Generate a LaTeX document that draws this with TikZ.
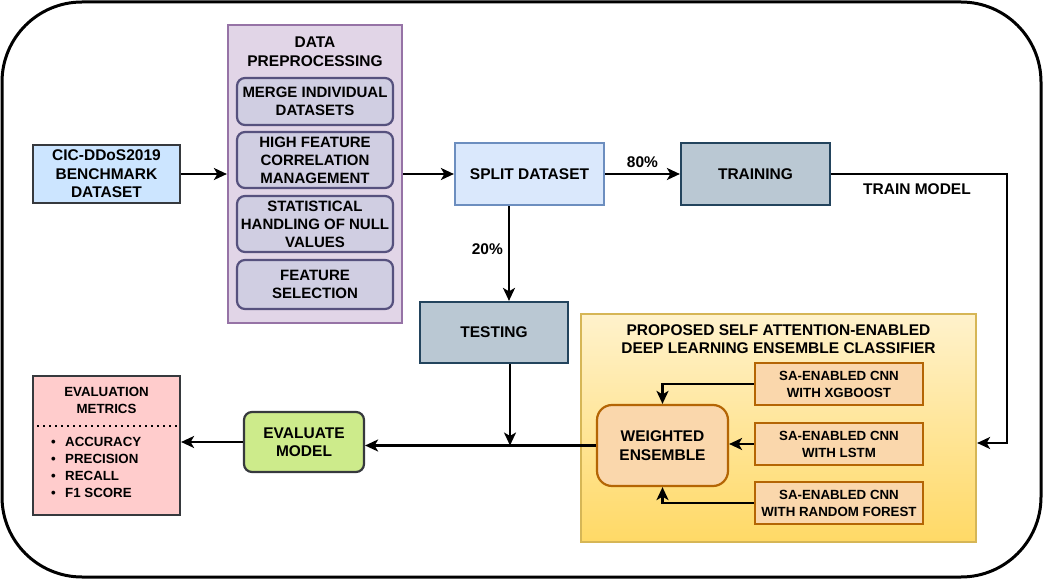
\documentclass[tikz,border=0pt]{standalone}
\usepackage{fontspec}
\setmainfont{Liberation Sans}
\usetikzlibrary{arrows.meta}
\definecolor{cicfill}{HTML}{CCE5FF}
\definecolor{darkstroke}{HTML}{36393D}
\definecolor{prefill}{HTML}{E1D5E7}
\definecolor{prestroke}{HTML}{9673A6}
\definecolor{innerfill}{HTML}{D0CEE2}
\definecolor{innerstroke}{HTML}{56517E}
\definecolor{splitfill}{HTML}{DAE8FC}
\definecolor{splitstroke}{HTML}{6C8EBF}
\definecolor{trainfill}{HTML}{BAC8D3}
\definecolor{trainstroke}{HTML}{23445D}
\definecolor{evalfill}{HTML}{CDEB8B}
\definecolor{metfill}{HTML}{FFCCCC}
\definecolor{ytop}{HTML}{FFF2CC}
\definecolor{ybot}{HTML}{FFD966}
\definecolor{ystroke}{HTML}{D6B656}
\definecolor{ofill}{HTML}{FAD7AC}
\definecolor{ostroke}{HTML}{B46504}
\newcommand\bigf{\fontsize{15.5}{18.5}\selectfont\bfseries}
\newcommand\midf{\fontsize{15}{18}\selectfont\bfseries}
\newcommand\smallf{\fontsize{13.3}{17}\selectfont\bfseries}
\tikzset{
  box/.style={draw, line width=2.2pt, align=center, inner sep=0pt, font=\bigf},
  innerbox/.style={box, fill=innerfill, draw=innerstroke, rounded corners=8pt, minimum width=156pt, font=\midf},
  sabox/.style={box, fill=ofill, draw=ostroke, minimum width=168pt, minimum height=42pt, font=\smallf},
  arr/.style={line width=2.4pt, -{Stealth[length=13pt,width=12pt,inset=3.5pt]}},
  lbl/.style={font=\bigf, inner sep=0pt, align=center}
}
\begin{document}
\begin{tikzpicture}[x=1pt,y=-1pt]
\useasboundingbox (0,0) rectangle (1045,580);
\node[draw, line width=3pt, rounded corners=80pt, minimum width=1039pt, minimum height=575pt, inner sep=0pt] (frame) at (521.5,289.5) {};

% left input
\node[box, fill=cicfill, draw=darkstroke, minimum width=147pt, minimum height=58pt] (cic) at (106.5,174) {CIC-DDoS2019\\BENCHMARK\\DATASET};

% preprocessing
\node[box, fill=prefill, draw=prestroke, minimum width=174pt, minimum height=298pt] (pre) at (315,174) {};
\node[lbl] (pretitle) at (315,51.5) {DATA\\PREPROCESSING};
\node[innerbox, minimum height=47pt] (p1) at (315,101.5) {MERGE INDIVIDUAL\\DATASETS};
\node[innerbox, minimum height=56pt] (p2) at (315,160) {HIGH FEATURE\\CORRELATION\\MANAGEMENT};
\node[innerbox, minimum height=56pt] (p3) at (315,224) {STATISTICAL\\HANDLING OF NULL\\VALUES};
\node[innerbox, minimum height=49pt] (p4) at (315,284.5) {FEATURE\\SELECTION};

% split / train / test
\node[box, fill=splitfill, draw=splitstroke, minimum width=149pt, minimum height=62pt] (split) at (529.5,174) {SPLIT DATASET};
\node[box, fill=trainfill, draw=trainstroke, minimum width=149pt, minimum height=62pt] (train) at (755.5,174) {TRAINING};
\node[box, fill=trainfill, draw=trainstroke, minimum width=148pt, minimum height=61pt] (test) at (494,332.5) {TESTING};

% evaluation
\node[box, fill=evalfill, draw=darkstroke, rounded corners=8pt, minimum width=120pt, minimum height=60pt] (eval) at (304,442) {EVALUATE\\MODEL};
\node[box, fill=metfill, draw=darkstroke, minimum width=147pt, minimum height=139pt] (met) at (106.5,445.5) {};
\node[lbl, font=\smallf] (mettitle) at (106.5,400) {EVALUATION\\METRICS};
\draw[line width=1.8pt, dash pattern=on 1.8pt off 4.2pt] (37,426) -- (178,426);
\node[lbl, font=\smallf, align=left, anchor=north west] (metlist) at (51,437)
  {\makebox[14pt][l]{\textbullet}ACCURACY\\\makebox[14pt][l]{\textbullet}PRECISION\\\makebox[14pt][l]{\textbullet}RECALL\\\makebox[14pt][l]{\textbullet}F1 SCORE};

% ensemble
\node[box, top color=ytop, bottom color=ybot, draw=ystroke, minimum width=395pt, minimum height=228pt] (ens) at (778.5,428) {};
\node[lbl] (enstitle) at (778.5,339) {PROPOSED SELF ATTENTION-ENABLED\\DEEP LEARNING ENSEMBLE CLASSIFIER};
\node[box, fill=ofill, draw=ostroke, rounded corners=15pt, minimum width=131pt, minimum height=81pt] (we) at (662.5,445.5) {WEIGHTED\\ENSEMBLE};
\node[sabox] (sa1) at (839,384) {SA-ENABLED CNN\\WITH XGBOOST};
\node[sabox] (sa2) at (839,444) {SA-ENABLED CNN\\WITH LSTM};
\node[sabox] (sa3) at (839,503) {SA-ENABLED CNN\\WITH RANDOM FOREST};

% connectors
\draw[arr] (cic.east) -- (pre.west);
\draw[arr] (pre.east) -- (split.west);
\draw[arr] (split.east) -- node[lbl, midway, above=5pt] (l80) {80\%} (train.west);
\coordinate (tcorner) at (1007,174);
\draw[arr] (train.east) -- (tcorner) -- (1007,443) -- ([yshift=-15pt]ens.east);
\node[lbl] (trainlbl) at (917,189) {TRAIN MODEL};
\draw[arr] ([xshift=-20.5pt]split.south) -- node[lbl, pos=0.45, left=5pt] (l20) {20\%} ([xshift=15pt]test.north);
\coordinate (tjoin) at (510,445.5);
\draw[arr] ([xshift=16pt]test.south) -- (tjoin);
\draw[arr] (we.west) -- (eval.east |- we.west);
\draw[arr] (eval.west) -- (met.east |- eval.west);
\draw[arr] (sa1.west) -| (we.north);
\draw[arr] (sa2.west) -- (we.east |- sa2.west);
\draw[arr] (sa3.west) -| (we.south);
\end{tikzpicture}
\end{document}
